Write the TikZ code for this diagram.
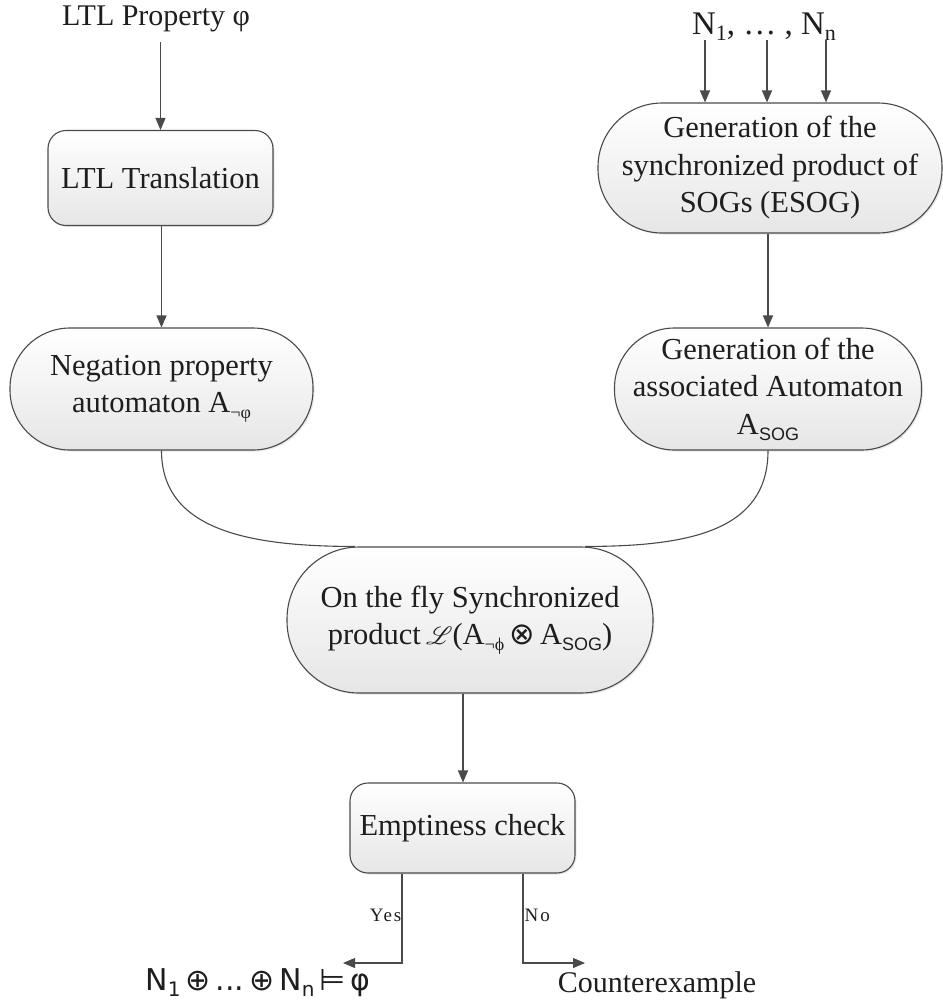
\documentclass[tikz,border=0pt]{standalone}
\usepackage{fontspec}
\setmainfont{Liberation Serif}
\setsansfont{Liberation Sans}
\newfontfamily\symfont{DejaVu Sans}
\usepackage{mathrsfs}
\usetikzlibrary{arrows.meta,shadows,calc}

\definecolor{edge}{HTML}{4A4A4A}
\definecolor{ink}{HTML}{1E1E1E}
\definecolor{fillbot}{HTML}{E6E6E6}

% lowered small index, used for A_SOG, N_1 ...
\newcommand\lowsub[2][18]{\raisebox{-6pt}{\fontsize{#1}{#1}\selectfont #2}}

\begin{document}
\begin{tikzpicture}[x=1pt,y=-1pt,
  box/.style={draw=edge, line width=1.1pt, top color=white, bottom color=fillbot,
    align=center, text=ink, inner sep=0pt,
    font=\fontsize{30.5}{37.5}\selectfont,
    drop shadow={opacity=0.18, shadow xshift=1.5pt, shadow yshift=-1.5pt}},
  sqbox/.style={box, rounded corners=18pt},
  pill/.style={box, rounded corners=#1},
  conn/.style={draw=edge, line width=1.1pt},
  arr/.style={conn, -{Triangle[length=12pt,width=10pt]}},
  lbl/.style={text=ink, inner sep=0pt, font=\fontsize{30}{35}\selectfont},
  tiny/.style={text=ink, inner sep=0pt, font=\fontsize{19}{19}\selectfont\addfontfeatures{LetterSpace=10}}
]
\useasboundingbox (0,0) rectangle (943,1005);

% inputs
\node[lbl] (ltl) at (156,19) {LTL Property φ};
\node[lbl, font=\fontsize{33}{35}\selectfont] (nets) at (764,27)
  {N\lowsub[22]{1}, … , N\lowsub[22]{n}};

% left column
\node[sqbox, minimum width=225pt, minimum height=95pt] (trans) at (160.5,178) {LTL Translation};
\node[pill=60pt, minimum width=303pt, minimum height=122pt] (neg) at (161.5,389)
  {Negation property\\automaton A\lowsub{¬φ}};

% right column
\node[pill=64pt, minimum width=344pt, minimum height=130pt] (esog) at (770,168)
  {Generation of the\\synchronized product of\\SOGs (ESOG)};
\node[pill=60pt, minimum width=307pt, minimum height=122pt] (assoc) at (768,389)
  {Generation of the\\associated Automaton\\A\lowsub{\sffamily SOG}};

% product and check
\node[pill=72pt, minimum width=366pt, minimum height=146pt] (prod) at (470,620)
  {On the fly Synchronized\\product\,$\mathscr{L}$(A\lowsub{¬ϕ}\,{\symfont ⊗}\,A\lowsub{\sffamily SOG})};
\node[sqbox, minimum width=225pt, minimum height=90pt] (empty) at (462.5,828) {Emptiness check};

% outcomes
\node[lbl] (holds) at (258,983)
  {\symfont N\lowsub[20]{1}\,⊕\,...\,⊕\,N\lowsub[20]{n}\,⊨\,φ};
\node[lbl] (cex) at (657,985) {Counterexample};

% free ends
\coordinate (n1) at (705,40);
\coordinate (n2) at (767,40);
\coordinate (n3) at (826,40);
\coordinate (yesend) at (343,963);
\coordinate (noend) at (585,963);

% connectors
\draw[arr] ([yshift=-10pt]ltl.south -| trans.north) -- (trans.north);
\draw[arr] (trans.south -| neg.north) -- (neg.north);
\draw[arr] (n1) -- (n1 |- esog.north);
\draw[arr] (n2) -- (n2 |- esog.north);
\draw[arr] (n3) -- (n3 |- esog.north);
\draw[arr] (esog.south -| assoc.north) -- (assoc.north);

\draw[conn] (neg.south) .. controls +(0,80) and +(-105,0) .. ($(prod.north)+(-115,0)$);
\draw[conn] (assoc.south) .. controls +(0,80) and +(105,0) .. ($(prod.north)+(115,0)$);

\draw[arr] ([xshift=-7pt]prod.south) -- ([xshift=-7pt]prod.south |- empty.north);

\draw[arr] ([xshift=-60.5pt]empty.south) |- (yesend);
\draw[arr] ([xshift=60.5pt]empty.south) |- (noend);
\node[tiny, anchor=east] (yes) at (401.5,915) {Yes};
\node[tiny, anchor=west] (no) at (524.5,915) {No};
\end{tikzpicture}
\end{document}
